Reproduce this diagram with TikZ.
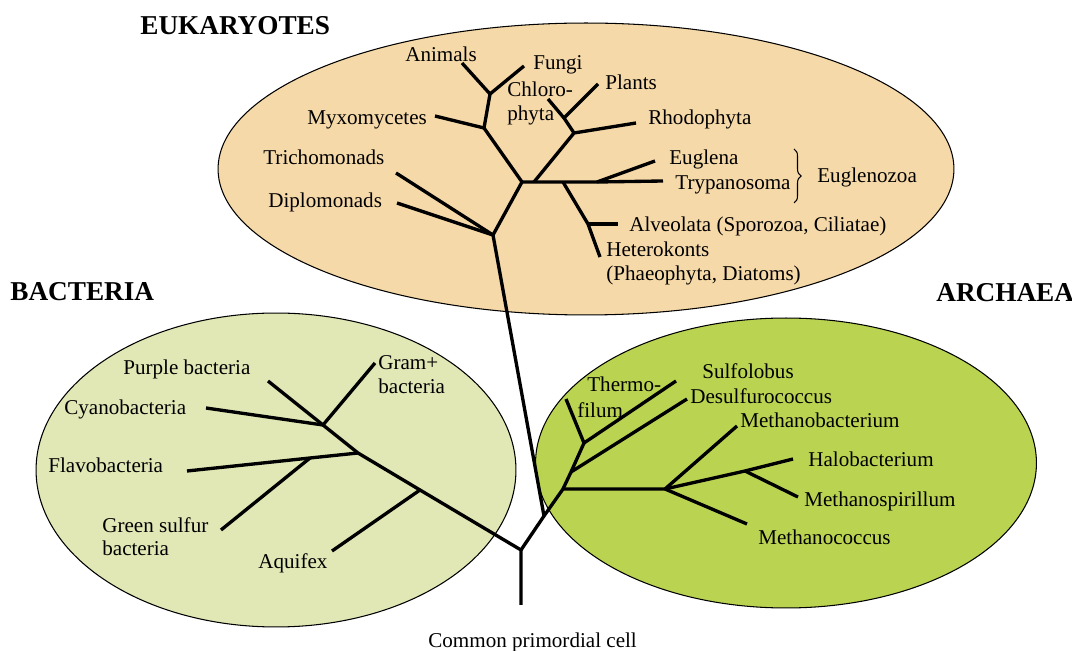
\documentclass[tikz,border=0pt]{standalone}
\usepackage{fontspec}
\setmainfont{Liberation Serif}
\usepackage{xcolor}
\usepackage{tikz}
\usetikzlibrary{decorations.pathreplacing}

\definecolor{eukfill}{RGB}{246,217,168}
\definecolor{bacfill}{RGB}{225,232,181}
\definecolor{arcfill}{RGB}{186,212,82}

\begin{document}
\begin{tikzpicture}[x=0.02cm,y=-0.02cm,
 realm/.style={draw=black,line width=0.6pt},
 br/.style={line width=1.9pt},
 lbl/.style={anchor=north west,inner sep=0pt,align=left,font=\fontsize{12}{13.5}\selectfont},
 head/.style={anchor=north west,inner sep=0pt,font=\fontsize{15.5}{18}\selectfont\bfseries}]
\useasboundingbox (0,0) rectangle (1072,651);
% three domains
\draw[realm,fill=eukfill] (586,169) ellipse [x radius=7.36cm,y radius=2.92cm];
\draw[realm,fill=bacfill] (276,470) ellipse [x radius=4.80cm,y radius=3.14cm];
\draw[realm,fill=arcfill] (786,463) ellipse [x radius=5.01cm,y radius=2.90cm];
\node[head] (euk) at (140,16) {EUKARYOTES};
\node[head] (bac) at (10,282) {BACTERIA};
\node[head] (arc) at (936,283) {ARCHAEA};
% branch points
\coordinate (base) at (521,605); \coordinate (fork) at (521,550);
\coordinate (bq) at (420,490); \coordinate (bf) at (358,453);
\coordinate (bc) at (323,425); \coordinate (bg) at (310,458);
\coordinate (split) at (544,516); \coordinate (am) at (563,489);
\coordinate (ad) at (571,472); \coordinate (aT) at (584,443);
\coordinate (mj) at (665,489); \coordinate (hj) at (745,471);
\coordinate (e0) at (493,235); \coordinate (e1) at (522,182);
\coordinate (e2) at (534,182); \coordinate (e3) at (563,182);
\coordinate (e4) at (597,182); \coordinate (e5) at (484,128);
\coordinate (e6) at (490,94); \coordinate (e7) at (574,133);
\coordinate (e8) at (564,118); \coordinate (e9) at (588,224);
% tips
\coordinate (tPurple) at (268,381); \coordinate (tGram) at (375,363);
\coordinate (tCyano) at (206,408); \coordinate (tFlavo) at (187,471);
\coordinate (tGreen) at (221,530); \coordinate (tAquifex) at (332,551);
\coordinate (tThermo) at (566,399); \coordinate (tSulfo) at (676,381);
\coordinate (tDesulfo) at (687,399); \coordinate (tMbact) at (737,426);
\coordinate (tHalo) at (793,459); \coordinate (tSpiri) at (798,497);
\coordinate (tMcocc) at (747,524);
\coordinate (tTricho) at (396,173); \coordinate (tDiplo) at (397,203);
\coordinate (tMyxo) at (435,116); \coordinate (tAnimals) at (462,63);
\coordinate (tFungi) at (524,66); \coordinate (tChloro) at (548,99);
\coordinate (tPlants) at (598,84); \coordinate (tRhodo) at (636,123);
\coordinate (tEuglena) at (655,161); \coordinate (tTrypano) at (663,181);
\coordinate (tAlveo) at (618,224); \coordinate (tHetero) at (600,257);
% bacteria
\draw[br] (base)--(fork)--(bq)--(bf)--(bc)--(tPurple);
\draw[br] (bc)--(tGram); \draw[br] (bc)--(tCyano);
\draw[br] (bf)--(bg)--(tFlavo); \draw[br] (bg)--(tGreen);
\draw[br] (bq)--(tAquifex);
% archaea
\draw[br] (fork)--(split)--(am)--(ad)--(aT)--(tThermo);
\draw[br] (aT)--(tSulfo); \draw[br] (ad)--(tDesulfo);
\draw[br] (am)--(mj)--(tMbact); \draw[br] (mj)--(hj)--(tHalo);
\draw[br] (hj)--(tSpiri); \draw[br] (mj)--(tMcocc);
% eukaryotes
\draw[br] (split)--(e0)--(tTricho); \draw[br] (e0)--(tDiplo);
\draw[br] (e0)--(e1)--(e5)--(e6)--(tAnimals); \draw[br] (e6)--(tFungi);
\draw[br] (e5)--(tMyxo);
\draw[br] (e1)--(e2)--(e3)--(e4)--(tTrypano); \draw[br] (e4)--(tEuglena);
\draw[br] (e2)--(e7)--(tRhodo); \draw[br] (e7)--(e8)--(tChloro);
\draw[br] (e8)--(tPlants);
\draw[br] (e3)--(e9)--(tHetero); \draw[br] (e9)--(tAlveo);
% labels
\node[lbl] (animals) at (405,47) {Animals};
\node[lbl] (fungi) at (533,55) {Fungi};
\node[lbl] (chloro) at (507,82) {Chloro-\\phyta};
\node[lbl] (plants) at (605,75) {Plants};
\node[lbl] (myxo) at (307,110) {Myxomycetes};
\node[lbl] (rhodo) at (648,110) {Rhodophyta};
\node[lbl] (tricho) at (263,150) {Trichomonads};
\node[lbl] (diplo) at (268,193) {Diplomonads};
\node[lbl] (euglena) at (669,150) {Euglena};
\node[lbl] (trypano) at (675,175) {Trypanosoma};
\node[lbl] (eugzoa) at (817,168) {Euglenozoa};
\node[lbl] (alveo) at (629,217) {Alveolata (Sporozoa, Ciliatae)};
\node[lbl] (hetero) at (606,242) {Heterokonts\\(Phaeophyta, Diatoms)};
\coordinate (braceT) at (794,149); \coordinate (braceB) at (794,203);
\draw[line width=0.6pt,decorate,decoration={brace,amplitude=4pt}] (braceT)--(braceB);
\node[lbl] (purple) at (123,360) {Purple bacteria};
\node[lbl] (gram) at (378,355) {Gram+\\bacteria};
\node[lbl] (cyano) at (64,400) {Cyanobacteria};
\node[lbl] (flavo) at (48,458) {Flavobacteria};
\node[lbl] (green) at (102,517) {Green sulfur\\bacteria};
\node[lbl] (aquifex) at (258,553) {Aquifex};
\node[lbl] (thermoA) at (587,377) {Thermo-};
\node[lbl] (thermoB) at (577,402) {filum};
\node[lbl] (sulfo) at (702,363) {Sulfolobus};
\node[lbl] (desulfo) at (690,388) {Desulfurococcus};
\node[lbl] (mbact) at (740,413) {Methanobacterium};
\node[lbl] (halo) at (808,452) {Halobacterium};
\node[lbl] (spiri) at (804,492) {Methanospirillum};
\node[lbl] (mcocc) at (758,530) {Methanococcus};
\node[lbl] (common) at (428,633) {Common primordial cell};
\end{tikzpicture}
\end{document}
